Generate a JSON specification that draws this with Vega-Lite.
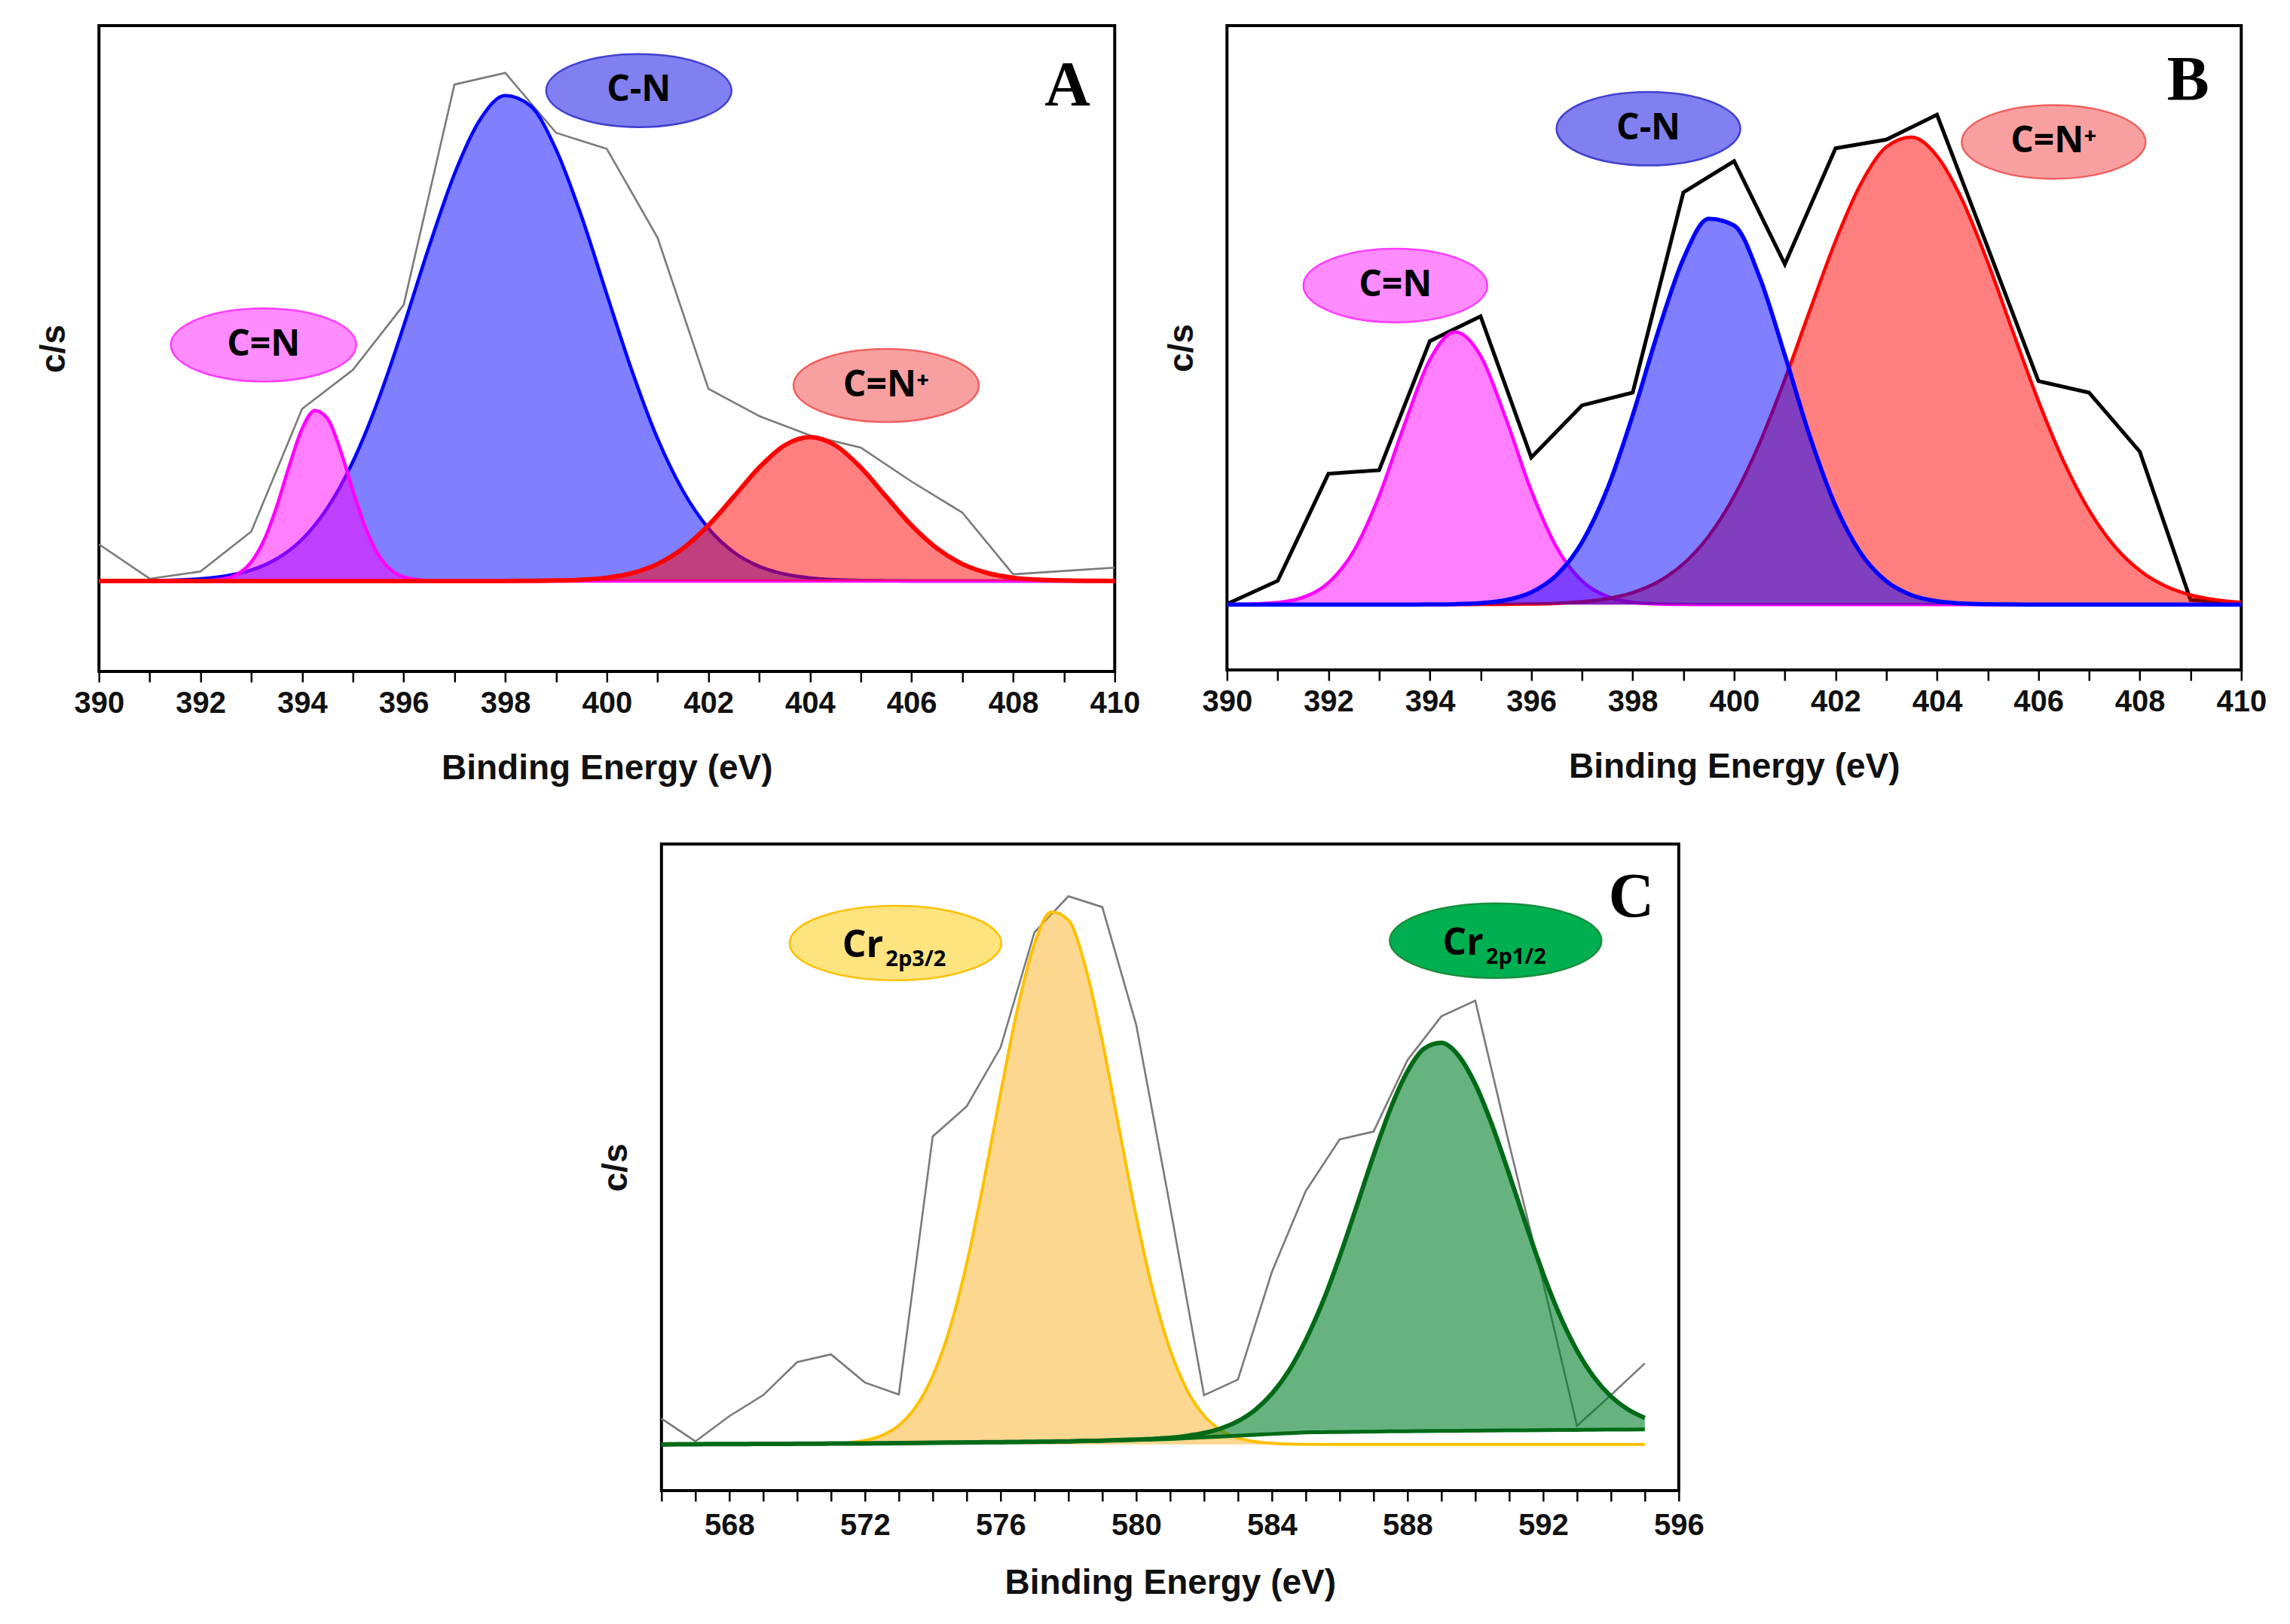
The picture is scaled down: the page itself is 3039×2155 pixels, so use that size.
{
  "$schema": "https://vega.github.io/schema/vega-lite/v6.json",
  "background": "white",
  "padding": {"left": 46, "top": 32, "right": 5, "bottom": 5},
  "config": {
    "view": {"stroke": "#000", "strokeWidth": 4},
    "axis": {
      "grid": false, "domain": false,
      "labelFont": "Liberation Sans", "labelFontWeight": "bold", "labelFontSize": 40, "labelColor": "#111",
      "titleFont": "Liberation Sans", "titleFontWeight": "bold", "titleFontSize": 46, "titleColor": "#111",
      "tickColor": "#000", "tickWidth": 2.5, "tickSize": 14,
      "labelFlush": false, "labelOverlap": false, "labelBound": false
    },
    "axisX": {"labelPadding": 8, "titlePadding": 44},
    "axisY": {"ticks": false, "labels": false, "titlePadding": 36}
  },
  "datasets": {
    "rawA": [
      {"x": 390, "y": 6.6}, {"x": 391, "y": 0.4}, {"x": 392, "y": 1.7}, {"x": 393, "y": 8.9},
      {"x": 394, "y": 31}, {"x": 395, "y": 38}, {"x": 396, "y": 49.7}, {"x": 397, "y": 89.4},
      {"x": 398, "y": 91.5}, {"x": 399, "y": 80.7}, {"x": 400, "y": 77.8}, {"x": 401, "y": 61.8},
      {"x": 402, "y": 34.6}, {"x": 403, "y": 29.7}, {"x": 404, "y": 26.2}, {"x": 405, "y": 24.0},
      {"x": 406, "y": 17.9}, {"x": 407, "y": 12.3}, {"x": 408, "y": 1.2}, {"x": 409, "y": 1.8},
      {"x": 410, "y": 2.4}
    ],
    "fitA": [
      {"x": 390, "m": 0, "b": 0, "r": 0},
      {"x": 390.5, "m": 0, "b": 0.02, "r": 0},
      {"x": 391, "m": 0, "b": 0.06, "r": 0},
      {"x": 391.5, "m": 0, "b": 0.15, "r": 0},
      {"x": 392, "m": 0.03, "b": 0.38, "r": 0},
      {"x": 392.5, "m": 0.46, "b": 0.9, "r": 0},
      {"x": 392.75, "m": 1.35, "b": 1.34, "r": 0},
      {"x": 393, "m": 3.42, "b": 1.96, "r": 0},
      {"x": 393.25, "m": 7.34, "b": 2.82, "r": 0},
      {"x": 393.5, "m": 13.4, "b": 3.98, "r": 0},
      {"x": 393.75, "m": 20.78, "b": 5.51, "r": 0},
      {"x": 394, "m": 27.4, "b": 7.51, "r": 0},
      {"x": 394.25, "m": 30.7, "b": 10.04, "r": 0},
      {"x": 394.5, "m": 29.24, "b": 13.18, "r": 0},
      {"x": 394.75, "m": 23.67, "b": 16.97, "r": 0},
      {"x": 395, "m": 16.28, "b": 21.49, "r": 0},
      {"x": 395.25, "m": 9.52, "b": 26.71, "r": 0},
      {"x": 395.5, "m": 4.73, "b": 32.59, "r": 0},
      {"x": 395.75, "m": 2.0, "b": 39.05, "r": 0},
      {"x": 396, "m": 0.72, "b": 45.94, "r": 0},
      {"x": 396.5, "m": 0.06, "b": 60.2, "r": 0},
      {"x": 397, "m": 0, "b": 73.3, "r": 0},
      {"x": 397.5, "m": 0, "b": 83.0, "r": 0},
      {"x": 398, "m": 0, "b": 87.4, "r": 0},
      {"x": 398.5, "m": 0, "b": 85.5, "r": 0.02},
      {"x": 399, "m": 0, "b": 77.7, "r": 0.07},
      {"x": 399.5, "m": 0, "b": 65.7, "r": 0.21},
      {"x": 400, "m": 0, "b": 51.6, "r": 0.58},
      {"x": 400.5, "m": 0, "b": 37.7, "r": 1.41},
      {"x": 401, "m": 0, "b": 25.6, "r": 3.05},
      {"x": 401.5, "m": 0, "b": 16.2, "r": 5.86},
      {"x": 402, "m": 0, "b": 9.49, "r": 10.0},
      {"x": 402.5, "m": 0, "b": 5.17, "r": 15.17},
      {"x": 403, "m": 0, "b": 2.62, "r": 20.42},
      {"x": 403.5, "m": 0, "b": 1.24, "r": 24.41},
      {"x": 404, "m": 0, "b": 0.54, "r": 25.9},
      {"x": 404.5, "m": 0, "b": 0.22, "r": 24.41},
      {"x": 405, "m": 0, "b": 0.08, "r": 20.42},
      {"x": 405.5, "m": 0, "b": 0.03, "r": 15.17},
      {"x": 406, "m": 0, "b": 0, "r": 10.0},
      {"x": 406.5, "m": 0, "b": 0, "r": 5.86},
      {"x": 407, "m": 0, "b": 0, "r": 3.05},
      {"x": 407.5, "m": 0, "b": 0, "r": 1.41},
      {"x": 408, "m": 0, "b": 0, "r": 0.58},
      {"x": 408.5, "m": 0, "b": 0, "r": 0.21},
      {"x": 409, "m": 0, "b": 0, "r": 0.07},
      {"x": 409.5, "m": 0, "b": 0, "r": 0.02},
      {"x": 410, "m": 0, "b": 0, "r": 0}
    ],
    "labA": [
      {"t": "C=N", "k": "m", "x": 393.24, "y": 42.5},
      {"t": "C-N", "k": "b", "x": 400.63, "y": 88.3},
      {"t": "C=N⁺", "k": "r", "x": 405.5, "y": 35.2}
    ],
    "rawB": [
      {"x": 390, "y": 0.1}, {"x": 391, "y": 4.1}, {"x": 392, "y": 22.6}, {"x": 393, "y": 23.2},
      {"x": 394, "y": 45.5}, {"x": 395, "y": 49.8}, {"x": 396, "y": 25.4}, {"x": 397, "y": 34.4},
      {"x": 398, "y": 36.6}, {"x": 399, "y": 71.2}, {"x": 400, "y": 76.6}, {"x": 401, "y": 58.8},
      {"x": 402, "y": 78.8}, {"x": 403, "y": 80.3}, {"x": 404, "y": 84.6}, {"x": 405, "y": 61.7},
      {"x": 406, "y": 38.6}, {"x": 407, "y": 36.6}, {"x": 408, "y": 26.4}, {"x": 409, "y": 0.8},
      {"x": 410, "y": 0.2}
    ],
    "fitB": [
      {"x": 390, "m": 0.01, "b": 0, "r": 0},
      {"x": 390.5, "m": 0.08, "b": 0, "r": 0},
      {"x": 391, "m": 0.34, "b": 0, "r": 0},
      {"x": 391.5, "m": 1.24, "b": 0, "r": 0},
      {"x": 392, "m": 3.75, "b": 0, "r": 0},
      {"x": 392.5, "m": 9.26, "b": 0, "r": 0},
      {"x": 393, "m": 18.76, "b": 0, "r": 0},
      {"x": 393.5, "m": 31.11, "b": 0, "r": 0},
      {"x": 394, "m": 42.29, "b": 0.02, "r": 0},
      {"x": 394.5, "m": 47.09, "b": 0.07, "r": 0},
      {"x": 395, "m": 42.97, "b": 0.25, "r": 0.01},
      {"x": 395.5, "m": 32.12, "b": 0.78, "r": 0.03},
      {"x": 396, "m": 19.67, "b": 2.12, "r": 0.08},
      {"x": 396.5, "m": 9.87, "b": 5.09, "r": 0.2},
      {"x": 397, "m": 4.06, "b": 10.75, "r": 0.47},
      {"x": 397.5, "m": 1.37, "b": 19.99, "r": 1.01},
      {"x": 398, "m": 0.38, "b": 32.71, "r": 2.05},
      {"x": 398.5, "m": 0.09, "b": 47.11, "r": 3.92},
      {"x": 399, "m": 0.02, "b": 59.72, "r": 7.03},
      {"x": 399.5, "m": 0, "b": 66.65, "r": 11.84},
      {"x": 400, "m": 0, "b": 65.47, "r": 18.73},
      {"x": 400.5, "m": 0, "b": 56.61, "r": 27.84},
      {"x": 401, "m": 0, "b": 43.09, "r": 38.87},
      {"x": 401.5, "m": 0, "b": 28.87, "r": 50.97},
      {"x": 402, "m": 0, "b": 17.02, "r": 62.8},
      {"x": 402.5, "m": 0, "b": 8.84, "r": 72.69},
      {"x": 403, "m": 0, "b": 4.04, "r": 79.04},
      {"x": 403.5, "m": 0, "b": 1.62, "r": 80.74},
      {"x": 404, "m": 0, "b": 0.58, "r": 77.47},
      {"x": 404.5, "m": 0, "b": 0.18, "r": 69.84},
      {"x": 405, "m": 0, "b": 0.05, "r": 59.14},
      {"x": 405.5, "m": 0, "b": 0.01, "r": 47.05},
      {"x": 406, "m": 0, "b": 0, "r": 35.16},
      {"x": 406.5, "m": 0, "b": 0, "r": 24.68},
      {"x": 407, "m": 0, "b": 0, "r": 16.28},
      {"x": 407.5, "m": 0, "b": 0, "r": 10.08},
      {"x": 408, "m": 0, "b": 0, "r": 5.87},
      {"x": 408.5, "m": 0, "b": 0, "r": 3.21},
      {"x": 409, "m": 0, "b": 0, "r": 1.65},
      {"x": 409.5, "m": 0, "b": 0, "r": 0.8},
      {"x": 410, "m": 0, "b": 0, "r": 0.36}
    ],
    "labB": [
      {"t": "C=N", "k": "m", "x": 393.32, "y": 55.1},
      {"t": "C-N", "k": "b", "x": 398.31, "y": 82.2},
      {"t": "C=N⁺", "k": "r", "x": 406.3, "y": 79.9}
    ],
    "rawC": [
      {"x": 566, "y": 4.3}, {"x": 567, "y": 0.5}, {"x": 568, "y": 4.7}, {"x": 569, "y": 8.2},
      {"x": 570, "y": 13.7}, {"x": 571, "y": 15.0}, {"x": 572, "y": 10.3}, {"x": 573, "y": 8.3},
      {"x": 574, "y": 51.3}, {"x": 575, "y": 56.3}, {"x": 576, "y": 66.1}, {"x": 577, "y": 85.3},
      {"x": 578, "y": 91.3}, {"x": 579, "y": 89.5}, {"x": 580, "y": 69.9}, {"x": 581, "y": 39.6},
      {"x": 582, "y": 8.2}, {"x": 583, "y": 10.8}, {"x": 584, "y": 28.7}, {"x": 585, "y": 42.2},
      {"x": 586, "y": 50.8}, {"x": 587, "y": 52.1}, {"x": 588, "y": 64}, {"x": 589, "y": 71.3},
      {"x": 590, "y": 73.9}, {"x": 591, "y": 50}, {"x": 592, "y": 27}, {"x": 593, "y": 3.1},
      {"x": 594, "y": 8.2}, {"x": 595, "y": 13.5}
    ],
    "fitC": [
      {"x": 566, "y": 0, "g": 0, "bg": 0},
      {"x": 566.5, "y": 0, "g": 0.01, "bg": 0.01},
      {"x": 567, "y": 0, "g": 0.03, "bg": 0.03},
      {"x": 567.5, "y": 0, "g": 0.04, "bg": 0.04},
      {"x": 568, "y": 0, "g": 0.05, "bg": 0.05},
      {"x": 568.5, "y": 0, "g": 0.06, "bg": 0.06},
      {"x": 569, "y": 0, "g": 0.08, "bg": 0.08},
      {"x": 569.5, "y": 0, "g": 0.09, "bg": 0.09},
      {"x": 570, "y": 0.01, "g": 0.1, "bg": 0.1},
      {"x": 570.5, "y": 0.03, "g": 0.11, "bg": 0.11},
      {"x": 571, "y": 0.1, "g": 0.13, "bg": 0.13},
      {"x": 571.5, "y": 0.26, "g": 0.14, "bg": 0.14},
      {"x": 572, "y": 0.65, "g": 0.15, "bg": 0.15},
      {"x": 572.5, "y": 1.49, "g": 0.18, "bg": 0.18},
      {"x": 573, "y": 3.16, "g": 0.21, "bg": 0.21},
      {"x": 573.5, "y": 6.24, "g": 0.24, "bg": 0.24},
      {"x": 574, "y": 11.39, "g": 0.27, "bg": 0.27},
      {"x": 574.5, "y": 19.25, "g": 0.3, "bg": 0.3},
      {"x": 575, "y": 30.11, "g": 0.33, "bg": 0.33},
      {"x": 575.5, "y": 43.61, "g": 0.35, "bg": 0.35},
      {"x": 576, "y": 58.47, "g": 0.38, "bg": 0.38},
      {"x": 576.5, "y": 72.57, "g": 0.41, "bg": 0.41},
      {"x": 577, "y": 83.38, "g": 0.44, "bg": 0.44},
      {"x": 577.5, "y": 88.69, "g": 0.47, "bg": 0.47},
      {"x": 578, "y": 87.33, "g": 0.5, "bg": 0.5},
      {"x": 578.5, "y": 79.61, "g": 0.57, "bg": 0.57},
      {"x": 579, "y": 67.18, "g": 0.63, "bg": 0.63},
      {"x": 579.5, "y": 52.48, "g": 0.7, "bg": 0.7},
      {"x": 580, "y": 37.96, "g": 0.81, "bg": 0.77},
      {"x": 580.5, "y": 25.41, "g": 0.91, "bg": 0.83},
      {"x": 581, "y": 15.74, "g": 1.08, "bg": 0.9},
      {"x": 581.5, "y": 9.03, "g": 1.41, "bg": 1.04},
      {"x": 582, "y": 4.8, "g": 1.9, "bg": 1.18},
      {"x": 582.5, "y": 2.36, "g": 2.66, "bg": 1.31},
      {"x": 583, "y": 1.07, "g": 3.86, "bg": 1.45},
      {"x": 583.5, "y": 0.45, "g": 5.7, "bg": 1.59},
      {"x": 584, "y": 0.18, "g": 8.42, "bg": 1.73},
      {"x": 584.5, "y": 0.06, "g": 12.24, "bg": 1.86},
      {"x": 585, "y": 0.02, "g": 17.37, "bg": 2.0},
      {"x": 585.5, "y": 0, "g": 23.72, "bg": 2.03},
      {"x": 586, "y": 0, "g": 31.29, "bg": 2.07},
      {"x": 586.5, "y": 0, "g": 39.64, "bg": 2.1},
      {"x": 587, "y": 0, "g": 48.13, "bg": 2.13},
      {"x": 587.5, "y": 0, "g": 55.93, "bg": 2.17},
      {"x": 588, "y": 0, "g": 62.13, "bg": 2.2},
      {"x": 588.5, "y": 0, "g": 65.95, "bg": 2.22},
      {"x": 589, "y": 0, "g": 66.88, "bg": 2.24},
      {"x": 589.5, "y": 0, "g": 64.79, "bg": 2.26},
      {"x": 590, "y": 0, "g": 60.0, "bg": 2.29},
      {"x": 590.5, "y": 0, "g": 53.11, "bg": 2.31},
      {"x": 591, "y": 0, "g": 44.98, "bg": 2.33},
      {"x": 591.5, "y": 0, "g": 36.51, "bg": 2.35},
      {"x": 592, "y": 0, "g": 28.46, "bg": 2.37},
      {"x": 592.5, "y": 0, "g": 21.4, "bg": 2.39},
      {"x": 593, "y": 0, "g": 15.62, "bg": 2.41},
      {"x": 593.5, "y": 0, "g": 11.2, "bg": 2.44},
      {"x": 594, "y": 0, "g": 8.0, "bg": 2.46},
      {"x": 594.5, "y": 0, "g": 5.82, "bg": 2.48},
      {"x": 595, "y": 0, "g": 4.42, "bg": 2.5}
    ],
    "labC": [
      {"t": "Cr", "s": "2p3/2", "k": "y", "x": 572.9, "y": 83.5},
      {"t": "Cr", "s": "2p1/2", "k": "g", "x": 590.6, "y": 83.9}
    ]
  },
  "center": true,
  "spacing": 74,
  "vconcat": [
    {
      "spacing": 28,
      "hconcat": [
        {
          "width": 1348,
          "height": 857,
          "encoding": {
            "x": {
              "field": "x", "type": "quantitative", "title": "Binding Energy (eV)",
              "scale": {"domain": [390, 410], "nice": false, "zero": false},
              "axis": {
                "values": [390, 391, 392, 393, 394, 395, 396, 397, 398, 399, 400, 401, 402, 403, 404, 405, 406, 407, 408, 409, 410],
                "labelExpr": "datum.value % 2 === 0 ? datum.label : ''"
              }
            }
          },
          "layer": [
            {
              "data": {"name": "rawA"},
              "mark": {"type": "line", "color": "#7a7a7a", "strokeWidth": 2.6},
              "encoding": {"y": {"field": "y", "type": "quantitative", "title": "c/s", "scale": {"domain": [-16.3, 100], "nice": false, "zero": false}}}
            },
            {
              "data": {"name": "fitA"},
              "mark": {"type": "area", "color": "#0000ff", "fillOpacity": 0.5, "interpolate": "monotone"},
              "encoding": {"y": {"field": "b", "type": "quantitative", "title": "c/s", "scale": {"domain": [-16.3, 100], "nice": false, "zero": false}}, "y2": {"datum": 0}}
            },
            {
              "data": {"name": "fitA"},
              "mark": {"type": "line", "color": "#0000ff", "strokeWidth": 4.5, "interpolate": "monotone"},
              "encoding": {"y": {"field": "b", "type": "quantitative", "title": "c/s", "scale": {"domain": [-16.3, 100], "nice": false, "zero": false}}}
            },
            {
              "data": {"name": "fitA"},
              "mark": {"type": "area", "color": "#ff00ff", "fillOpacity": 0.5, "interpolate": "monotone"},
              "encoding": {"y": {"field": "m", "type": "quantitative", "title": "c/s", "scale": {"domain": [-16.3, 100], "nice": false, "zero": false}}, "y2": {"datum": 0}}
            },
            {
              "data": {"name": "fitA"},
              "mark": {"type": "line", "color": "#ff00ff", "strokeWidth": 4.5, "interpolate": "monotone"},
              "encoding": {"y": {"field": "m", "type": "quantitative", "title": "c/s", "scale": {"domain": [-16.3, 100], "nice": false, "zero": false}}}
            },
            {
              "data": {"name": "fitA"},
              "mark": {"type": "area", "color": "#ff0000", "fillOpacity": 0.5, "interpolate": "monotone"},
              "encoding": {"y": {"field": "r", "type": "quantitative", "title": "c/s", "scale": {"domain": [-16.3, 100], "nice": false, "zero": false}}, "y2": {"datum": 0}}
            },
            {
              "data": {"name": "fitA"},
              "mark": {"type": "line", "color": "#ff0000", "strokeWidth": 6, "interpolate": "monotone"},
              "encoding": {"y": {"field": "r", "type": "quantitative", "title": "c/s", "scale": {"domain": [-16.3, 100], "nice": false, "zero": false}}}
            },
            {
              "data": {"name": "labA"},
              "mark": {"type": "point", "shape": "M-1,0A1,0.394,0,1,0,1,0A1,0.394,0,1,0,-1,0Z", "size": 60516, "filled": true, "opacity": 1, "strokeWidth": 2.5},
              "encoding": {
                "y": {"field": "y", "type": "quantitative", "title": "c/s", "scale": {"domain": [-16.3, 100], "nice": false, "zero": false}},
                "fill": {"field": "k", "type": "nominal", "legend": null, "scale": {"domain": ["m", "b", "r", "y", "g"], "range": ["#ff8cff", "#8080f0", "#f8a0a0", "#fde47f", "#00b050"]}},
                "stroke": {"field": "k", "type": "nominal", "legend": null, "scale": {"domain": ["m", "b", "r", "y", "g"], "range": ["#ff3cff", "#4040d0", "#f06060", "#ffc000", "#1a8f3c"]}}
              }
            },
            {
              "data": {"name": "labA"},
              "mark": {"type": "text", "font": "Open Sans", "fontWeight": "bold", "fontSize": 48, "color": "#000", "align": "center", "baseline": "middle"},
              "encoding": {
                "y": {"field": "y", "type": "quantitative", "title": "c/s", "scale": {"domain": [-16.3, 100], "nice": false, "zero": false}},
                "text": {"field": "t"}
              }
            },
            {
              "data": {"values": [{"t": "A", "x": 409.07, "y": 89}]},
              "mark": {"type": "text", "font": "Liberation Serif", "fontWeight": "bold", "fontSize": 84, "color": "#000", "align": "center", "baseline": "middle"},
              "encoding": {
                "y": {"field": "y", "type": "quantitative", "title": "c/s", "scale": {"domain": [-16.3, 100], "nice": false, "zero": false}},
                "text": {"field": "t"}
              }
            }
          ]
        },
        {
          "width": 1346,
          "height": 855,
          "encoding": {
            "x": {
              "field": "x", "type": "quantitative", "title": "Binding Energy (eV)",
              "scale": {"domain": [390, 410], "nice": false, "zero": false},
              "axis": {
                "values": [390, 391, 392, 393, 394, 395, 396, 397, 398, 399, 400, 401, 402, 403, 404, 405, 406, 407, 408, 409, 410],
                "labelExpr": "datum.value % 2 === 0 ? datum.label : ''"
              }
            }
          },
          "layer": [
            {
              "data": {"name": "rawB"},
              "mark": {"type": "line", "color": "#000", "strokeWidth": 5},
              "encoding": {"y": {"field": "y", "type": "quantitative", "title": "c/s", "scale": {"domain": [-11.3, 100], "nice": false, "zero": false}}}
            },
            {
              "data": {"name": "fitB"},
              "mark": {"type": "area", "color": "#ff00ff", "fillOpacity": 0.5, "interpolate": "monotone"},
              "encoding": {"y": {"field": "m", "type": "quantitative", "title": "c/s", "scale": {"domain": [-11.3, 100], "nice": false, "zero": false}}, "y2": {"datum": 0}}
            },
            {
              "data": {"name": "fitB"},
              "mark": {"type": "line", "color": "#ff00ff", "strokeWidth": 4.5, "interpolate": "monotone"},
              "encoding": {"y": {"field": "m", "type": "quantitative", "title": "c/s", "scale": {"domain": [-11.3, 100], "nice": false, "zero": false}}}
            },
            {
              "data": {"name": "fitB"},
              "mark": {"type": "area", "color": "#ff0000", "fillOpacity": 0.5, "interpolate": "monotone"},
              "encoding": {"y": {"field": "r", "type": "quantitative", "title": "c/s", "scale": {"domain": [-11.3, 100], "nice": false, "zero": false}}, "y2": {"datum": 0}}
            },
            {
              "data": {"name": "fitB"},
              "mark": {"type": "line", "color": "#ff0000", "strokeWidth": 4.5, "interpolate": "monotone"},
              "encoding": {"y": {"field": "r", "type": "quantitative", "title": "c/s", "scale": {"domain": [-11.3, 100], "nice": false, "zero": false}}}
            },
            {
              "data": {"name": "fitB"},
              "mark": {"type": "area", "color": "#0000ff", "fillOpacity": 0.5, "interpolate": "monotone"},
              "encoding": {"y": {"field": "b", "type": "quantitative", "title": "c/s", "scale": {"domain": [-11.3, 100], "nice": false, "zero": false}}, "y2": {"datum": 0}}
            },
            {
              "data": {"name": "fitB"},
              "mark": {"type": "line", "color": "#0000ff", "strokeWidth": 5.5, "interpolate": "monotone"},
              "encoding": {"y": {"field": "b", "type": "quantitative", "title": "c/s", "scale": {"domain": [-11.3, 100], "nice": false, "zero": false}}}
            },
            {
              "data": {"name": "labB"},
              "mark": {"type": "point", "shape": "M-1,0A1,0.4,0,1,0,1,0A1,0.4,0,1,0,-1,0Z", "size": 59536, "filled": true, "opacity": 1, "strokeWidth": 2.5},
              "encoding": {
                "y": {"field": "y", "type": "quantitative", "title": "c/s", "scale": {"domain": [-11.3, 100], "nice": false, "zero": false}},
                "fill": {"field": "k", "type": "nominal", "legend": null, "scale": {"domain": ["m", "b", "r", "y", "g"], "range": ["#ff8cff", "#8080f0", "#f8a0a0", "#fde47f", "#00b050"]}},
                "stroke": {"field": "k", "type": "nominal", "legend": null, "scale": {"domain": ["m", "b", "r", "y", "g"], "range": ["#ff3cff", "#4040d0", "#f06060", "#ffc000", "#1a8f3c"]}}
              }
            },
            {
              "data": {"name": "labB"},
              "mark": {"type": "text", "font": "Open Sans", "fontWeight": "bold", "fontSize": 48, "color": "#000", "align": "center", "baseline": "middle"},
              "encoding": {
                "y": {"field": "y", "type": "quantitative", "title": "c/s", "scale": {"domain": [-11.3, 100], "nice": false, "zero": false}},
                "text": {"field": "t"}
              }
            },
            {
              "data": {"values": [{"t": "B", "x": 408.95, "y": 90.4}]},
              "mark": {"type": "text", "font": "Liberation Serif", "fontWeight": "bold", "fontSize": 84, "color": "#000", "align": "center", "baseline": "middle"},
              "encoding": {
                "y": {"field": "y", "type": "quantitative", "title": "c/s", "scale": {"domain": [-11.3, 100], "nice": false, "zero": false}},
                "text": {"field": "t"}
              }
            }
          ]
        }
      ]
    },
    {
      "width": 1350,
      "height": 858,
      "encoding": {
        "x": {
          "field": "x", "type": "quantitative", "title": "Binding Energy (eV)",
          "scale": {"domain": [566, 596], "nice": false, "zero": false},
          "axis": {
            "values": [566, 567, 568, 569, 570, 571, 572, 573, 574, 575, 576, 577, 578, 579, 580, 581, 582, 583, 584, 585, 586, 587, 588, 589, 590, 591, 592, 593, 594, 595, 596],
            "labelExpr": "datum.value % 4 === 0 ? datum.label : ''",
            "labelPadding": 12,
            "titlePadding": 34
          }
        }
      },
      "layer": [
        {
          "data": {"name": "rawC"},
          "mark": {"type": "line", "color": "#7a7a7a", "strokeWidth": 2.6},
          "encoding": {"y": {"field": "y", "type": "quantitative", "title": "c/s", "scale": {"domain": [-7.7, 100], "nice": false, "zero": false}}}
        },
        {
          "data": {"name": "fitC"},
          "mark": {"type": "area", "color": "#f7b021", "fillOpacity": 0.5, "interpolate": "monotone"},
          "encoding": {"y": {"field": "y", "type": "quantitative", "title": "c/s", "scale": {"domain": [-7.7, 100], "nice": false, "zero": false}}, "y2": {"datum": 0}}
        },
        {
          "data": {"name": "fitC"},
          "mark": {"type": "line", "color": "#ffc000", "strokeWidth": 4, "interpolate": "monotone"},
          "encoding": {"y": {"field": "y", "type": "quantitative", "title": "c/s", "scale": {"domain": [-7.7, 100], "nice": false, "zero": false}}}
        },
        {
          "data": {"name": "fitC"},
          "mark": {"type": "area", "color": "#00802b", "fillOpacity": 0.6, "interpolate": "monotone"},
          "encoding": {"y": {"field": "g", "type": "quantitative", "title": "c/s", "scale": {"domain": [-7.7, 100], "nice": false, "zero": false}}, "y2": {"field": "bg"}}
        },
        {
          "data": {"name": "fitC"},
          "mark": {"type": "line", "color": "#006a17", "strokeWidth": 6, "interpolate": "monotone"},
          "encoding": {"y": {"field": "g", "type": "quantitative", "title": "c/s", "scale": {"domain": [-7.7, 100], "nice": false, "zero": false}}}
        },
        {
          "data": {"name": "fitC"},
          "mark": {"type": "line", "color": "#006a17", "strokeWidth": 5, "interpolate": "monotone"},
          "encoding": {"y": {"field": "bg", "type": "quantitative", "title": "c/s", "scale": {"domain": [-7.7, 100], "nice": false, "zero": false}}}
        },
        {
          "data": {"name": "labC"},
          "mark": {"type": "point", "shape": "M-1,0A1,0.352,0,1,0,1,0A1,0.352,0,1,0,-1,0Z", "size": 78961, "filled": true, "opacity": 1, "strokeWidth": 2.5},
          "encoding": {
            "y": {"field": "y", "type": "quantitative", "title": "c/s", "scale": {"domain": [-7.7, 100], "nice": false, "zero": false}},
            "fill": {"field": "k", "type": "nominal", "legend": null, "scale": {"domain": ["m", "b", "r", "y", "g"], "range": ["#ff8cff", "#8080f0", "#f8a0a0", "#fde47f", "#00b050"]}},
            "stroke": {"field": "k", "type": "nominal", "legend": null, "scale": {"domain": ["m", "b", "r", "y", "g"], "range": ["#ff3cff", "#4040d0", "#f06060", "#ffc000", "#1a8f3c"]}}
          }
        },
        {
          "data": {"name": "labC"},
          "mark": {"type": "text", "font": "Open Sans", "fontWeight": "bold", "fontSize": 50, "color": "#000", "align": "right", "baseline": "alphabetic", "dx": -16, "dy": 19},
          "encoding": {
            "y": {"field": "y", "type": "quantitative", "title": "c/s", "scale": {"domain": [-7.7, 100], "nice": false, "zero": false}},
            "text": {"field": "t"}
          }
        },
        {
          "data": {"name": "labC"},
          "mark": {"type": "text", "font": "Open Sans", "fontWeight": "bold", "fontSize": 29, "color": "#000", "align": "left", "baseline": "alphabetic", "dx": -13, "dy": 31},
          "encoding": {
            "y": {"field": "y", "type": "quantitative", "title": "c/s", "scale": {"domain": [-7.7, 100], "nice": false, "zero": false}},
            "text": {"field": "s"}
          }
        },
        {
          "data": {"values": [{"t": "C", "x": 594.6, "y": 90.9}]},
          "mark": {"type": "text", "font": "Liberation Serif", "fontWeight": "bold", "fontSize": 84, "color": "#000", "align": "center", "baseline": "middle"},
          "encoding": {
            "y": {"field": "y", "type": "quantitative", "title": "c/s", "scale": {"domain": [-7.7, 100], "nice": false, "zero": false}},
            "text": {"field": "t"}
          }
        }
      ]
    }
  ]
}
